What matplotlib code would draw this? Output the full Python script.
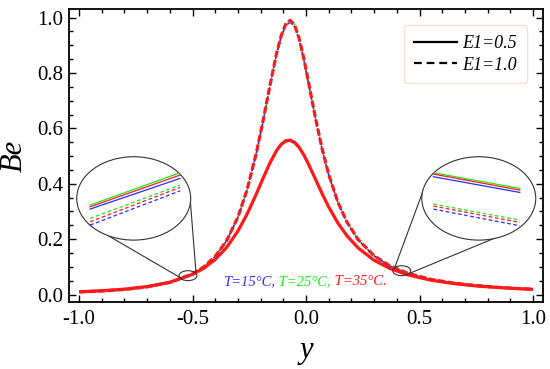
import matplotlib
matplotlib.use('Agg')
import matplotlib.pyplot as plt
from matplotlib.patches import Ellipse
from matplotlib.lines import Line2D
from matplotlib.ticker import MultipleLocator

plt.rcParams['font.family'] = ['Liberation Serif', 'DejaVu Serif']

# positions across the channel
y_pts = [-1.0, -0.9, -0.8, -0.7, -0.6, -0.5, -0.45, -0.4, -0.35, -0.3, -0.26, -0.22,
         -0.19, -0.16, -0.13, -0.11, -0.09, -0.07, -0.05, -0.03, -0.01, 0.01, 0.04,
         0.07, 0.1, 0.14, 0.18, 0.23, 0.3, 0.37, 0.45, 0.55, 0.65, 0.75, 0.85, 0.93, 1.0]

# Bejan number, E1 = 0.5 (solid)
be_05_t15 = [0.0098, 0.0135, 0.0192, 0.0284, 0.0440, 0.0722, 0.0945, 0.1256, 0.1686, 0.2276,
             0.2879, 0.3587, 0.4155, 0.4703, 0.5162, 0.5382, 0.5511, 0.5538, 0.5456, 0.5274,
             0.5012, 0.4693, 0.4165, 0.3632, 0.3138, 0.2571, 0.2110, 0.1666, 0.1227, 0.0931,
             0.0702, 0.0514, 0.0392, 0.0308, 0.0247, 0.0212, 0.0186]
be_05_t25 = [0.0099, 0.0136, 0.0194, 0.0287, 0.0444, 0.0729, 0.0955, 0.1269, 0.1703, 0.2299,
             0.2908, 0.3623, 0.4197, 0.4750, 0.5214, 0.5436, 0.5567, 0.5594, 0.5510, 0.5327,
             0.5062, 0.4740, 0.4207, 0.3669, 0.3169, 0.2597, 0.2131, 0.1683, 0.1240, 0.0941,
             0.0709, 0.0520, 0.0396, 0.0311, 0.0250, 0.0214, 0.0188]
be_05_t35 = [0.0099, 0.0136, 0.0193, 0.0286, 0.0443, 0.0727, 0.0952, 0.1265, 0.1698, 0.2292,
             0.2899, 0.3612, 0.4184, 0.4736, 0.5198, 0.5420, 0.5550, 0.5577, 0.5494, 0.5311,
             0.5047, 0.4726, 0.4194, 0.3658, 0.3160, 0.2589, 0.2125, 0.1678, 0.1236, 0.0938,
             0.0707, 0.0518, 0.0395, 0.0310, 0.0249, 0.0213, 0.0187]

# Bejan number, E1 = 1.0 (dashed)
be_10_t15 = [0.0091, 0.0126, 0.0182, 0.0272, 0.0433, 0.0739, 0.0994, 0.1370, 0.1932, 0.2780,
             0.3750, 0.5039, 0.6205, 0.7463, 0.8648, 0.9278, 0.9695, 0.9841, 0.9669, 0.9188,
             0.8483, 0.7662, 0.6399, 0.5259, 0.4308, 0.3325, 0.2604, 0.1968, 0.1390, 0.1025,
             0.0755, 0.0545, 0.0410, 0.0319, 0.0254, 0.0217, 0.0190]
be_10_t25 = [0.0092, 0.0127, 0.0183, 0.0275, 0.0437, 0.0744, 0.1002, 0.1381, 0.1948, 0.2803,
             0.3781, 0.5079, 0.6254, 0.7523, 0.8717, 0.9353, 0.9774, 0.9920, 0.9746, 0.9261,
             0.8551, 0.7723, 0.6451, 0.5302, 0.4343, 0.3352, 0.2625, 0.1984, 0.1401, 0.1033,
             0.0762, 0.0549, 0.0413, 0.0322, 0.0257, 0.0218, 0.0191]
be_10_t35 = [0.0092, 0.0127, 0.0183, 0.0274, 0.0436, 0.0743, 0.1000, 0.1378, 0.1944, 0.2797,
             0.3773, 0.5069, 0.6242, 0.7508, 0.8700, 0.9334, 0.9754, 0.9900, 0.9727, 0.9243,
             0.8534, 0.7708, 0.6438, 0.5291, 0.4334, 0.3345, 0.2620, 0.1980, 0.1398, 0.1031,
             0.0760, 0.0548, 0.0412, 0.0321, 0.0256, 0.0218, 0.0191]

temp_labels = ['T=15°C,', 'T=25°C,', 'T=35°C.']
temp_colors = ['#2b2bff', '#1ee81e', '#ff1a1a']

# zoomed views (normalised inset units)
zoom_left_x = [0.117, 0.906]
zoom_left_solid = [[0.372, 0.74], [0.42, 0.808], [0.40, 0.78]]
zoom_left_dash = [[0.18, 0.59], [0.26, 0.66], [0.22, 0.632]]
zoom_right_x = [0.102, 0.86]
zoom_right_solid = [[0.76, 0.572], [0.808, 0.62], [0.792, 0.60]]
zoom_right_dash = [[0.372, 0.172], [0.432, 0.24], [0.408, 0.212]]

fig = plt.figure(figsize=(5.5, 3.69), dpi=100)
ax = fig.add_axes([0.1255, 0.1816, 0.8618, 0.794])

solid_sets = [be_05_t15, be_05_t25, be_05_t35]
dash_sets = [be_10_t15, be_10_t25, be_10_t35]
widths = [1.1, 1.0, 2.3]
# draw green, then blue, red on top
for i in [1, 0, 2]:
    ax.plot(y_pts, solid_sets[i], color=temp_colors[i], lw=widths[i], solid_capstyle='butt')
    ax.plot(y_pts, dash_sets[i], color=temp_colors[i], lw=widths[i], dashes=(2.1, 0.9))

ax.set_xlim(-1.044, 1.044)
ax.set_ylim(-0.027, 1.031)
ax.xaxis.set_major_locator(MultipleLocator(0.5))
ax.xaxis.set_minor_locator(MultipleLocator(0.1))
ax.yaxis.set_major_locator(MultipleLocator(0.2))
ax.yaxis.set_minor_locator(MultipleLocator(0.05))
ax.xaxis.set_major_formatter(matplotlib.ticker.FormatStrFormatter('%.1f'))
ax.yaxis.set_major_formatter(matplotlib.ticker.FormatStrFormatter('%.1f'))
ax.tick_params(which='both', direction='in', top=True, right=True, width=1.0)
ax.tick_params(which='major', length=5, labelsize=15)
ax.tick_params(axis='x', which='major', pad=6)
ax.tick_params(axis='y', which='major', pad=4)
ax.tick_params(which='minor', length=2.8)
for s in ax.spines.values():
    s.set_linewidth(1.3)

ax.set_xlabel('y', fontsize=22, style='italic', labelpad=5)
ax.set_ylabel('Be', fontsize=22, style='italic', labelpad=6)

# temperature label, coloured pieces
t = ax.text(-0.366, 0.047, temp_labels[0], color=temp_colors[0], fontsize=10.5,
            style='italic', va='center', ha='left')
for lab, col in zip(temp_labels[1:], temp_colors[1:]):
    t = ax.annotate(' ' + lab, xy=(1, 0), xycoords=t, va='bottom', ha='left',
                    color=col, fontsize=10.5, style='italic')

# legend
handles = [Line2D([], [], color='black', lw=1.6),
           Line2D([], [], color='black', lw=1.6, dashes=(3.5, 2.2))]
leg = ax.legend(handles, ['E1=0.5', 'E1=1.0'], loc='upper right',
                bbox_to_anchor=(0.985, 0.976), handlelength=2.4,
                handletextpad=0.3, labelspacing=0.25, borderpad=0.55, fancybox=True,
                framealpha=1, prop={'style': 'italic', 'size': 13})
leg.get_frame().set_edgecolor('#f0e2d6')
leg.get_frame().set_linewidth(1.0)

# zoom markers and circles
ring = '#333333'
spots = [(-0.52, 0.068), (0.4216, 0.086)]
for sx, sy in spots:
    ax.add_patch(Ellipse((sx, sy), 0.079, 0.036, fill=False, ec=ring, lw=0.8, zorder=6))

ax.plot([-0.952, -0.548], [0.251, 0.058], color=ring, lw=0.8, zorder=6)
ax.plot([-0.511, -0.485], [0.353, 0.082], color=ring, lw=0.8, zorder=6)
ax.plot([0.392, 0.517], [0.100, 0.377], color=ring, lw=0.8, zorder=6)
ax.plot([0.458, 0.847], [0.077, 0.209], color=ring, lw=0.8, zorder=6)

insets = [(-1.010, zoom_left_x, zoom_left_solid, zoom_left_dash),
          (0.510, zoom_right_x, zoom_right_solid, zoom_right_dash)]
for x0, zx, zs, zd in insets:
    ia = ax.inset_axes([x0, 0.1965, 0.502, 0.301], transform=ax.transData, zorder=7)
    ia.set_xlim(0, 1)
    ia.set_ylim(0, 1)
    ia.axis('off')
    circ = Ellipse((0.5, 0.5), 1, 1, transform=ia.transAxes, fc='white', ec=ring,
                   lw=0.8, clip_on=False)
    ia.add_patch(circ)
    for i in [1, 2, 0]:
        ln, = ia.plot(zx, zs[i], color=temp_colors[i], lw=0.9)
        ln.set_clip_path(circ)
        ln2, = ia.plot(zx, zd[i], color=temp_colors[i], lw=0.9, dashes=(3, 2))
        ln2.set_clip_path(circ)

fig.savefig('out.png', dpi=100)
